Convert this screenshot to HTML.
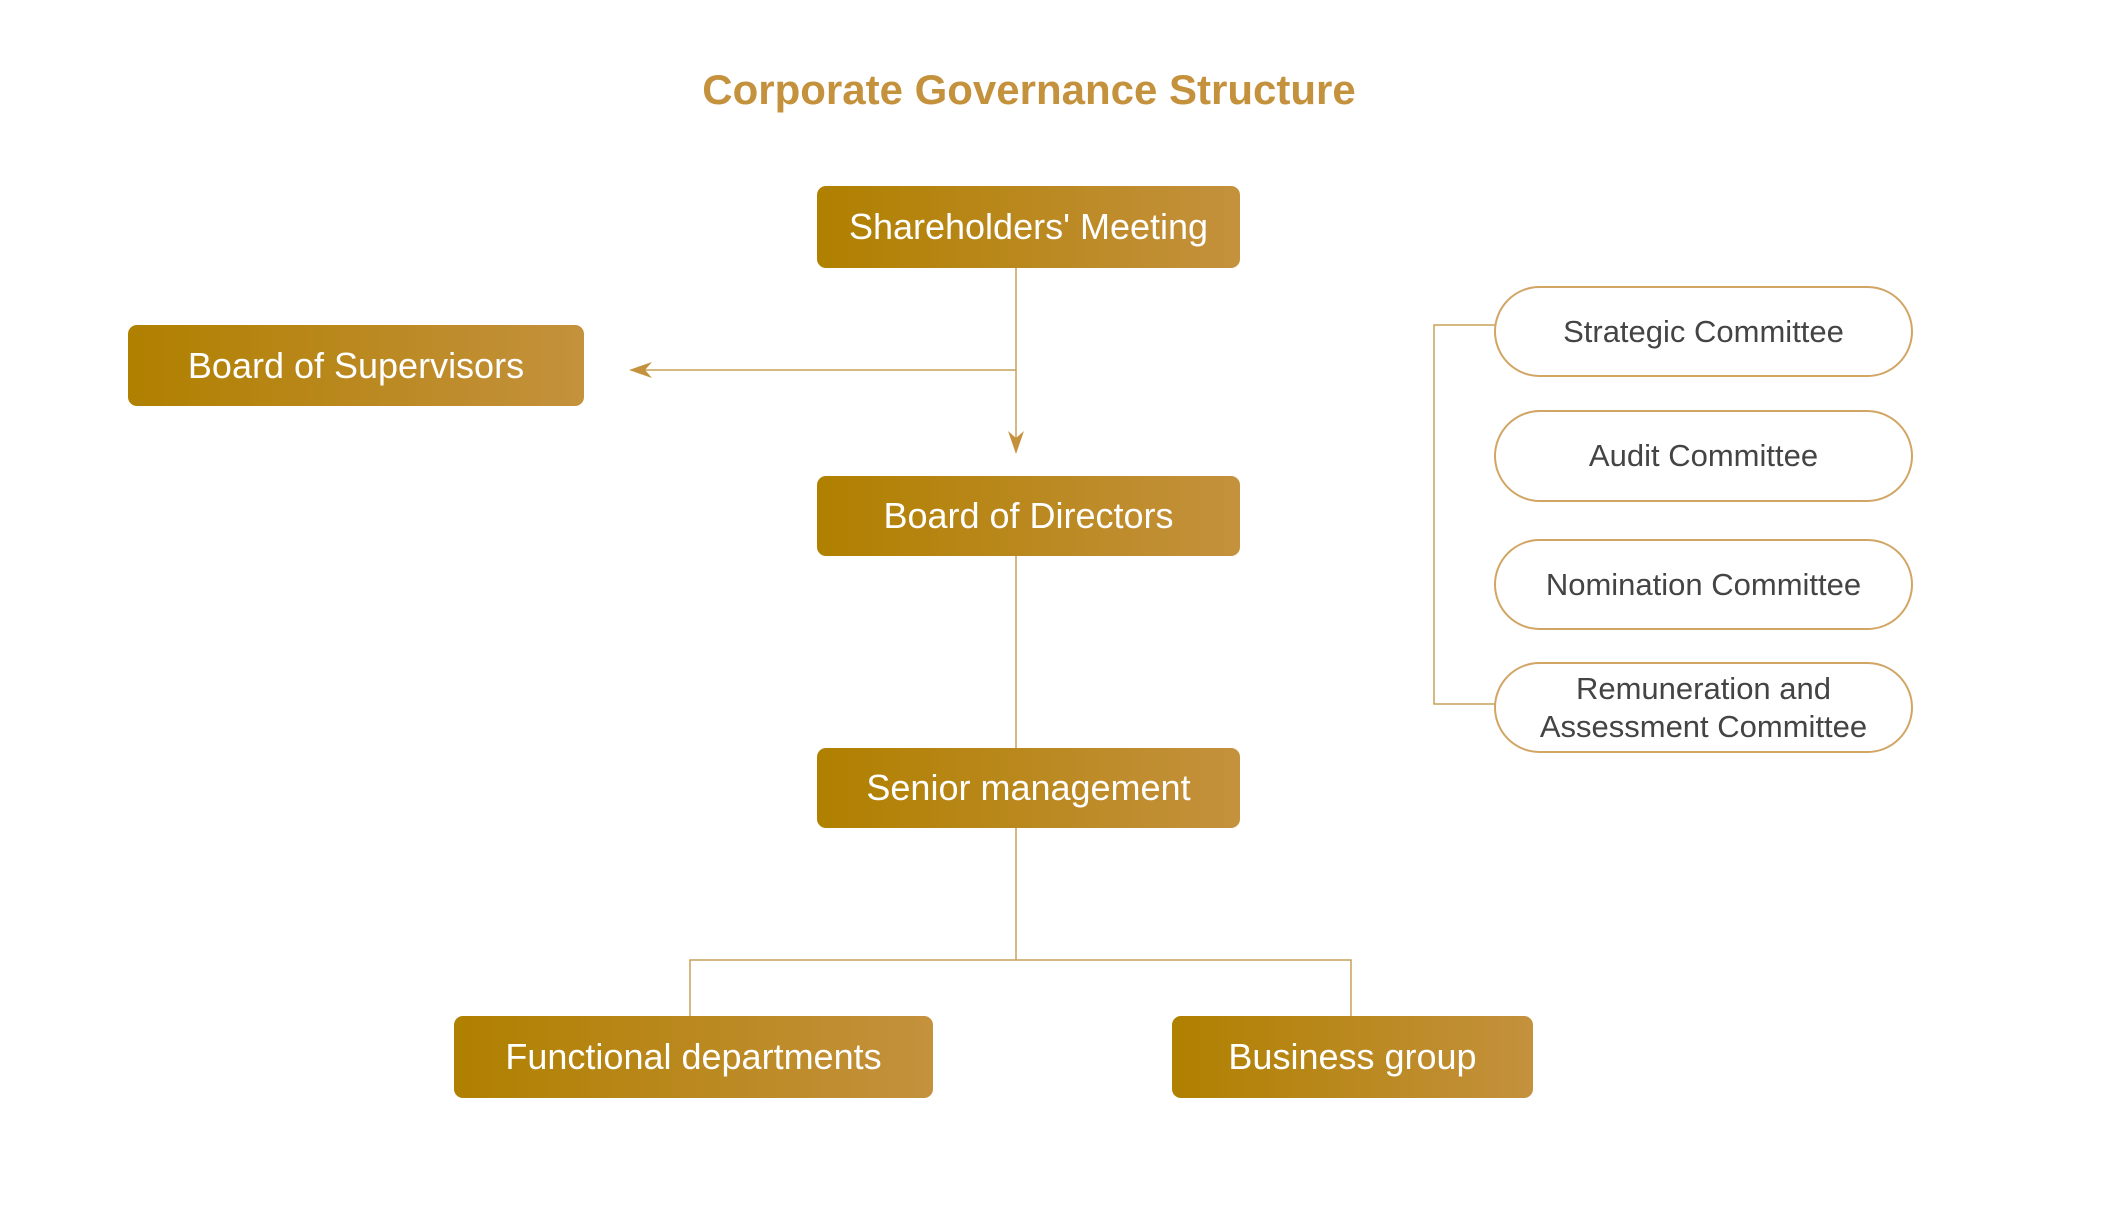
<!DOCTYPE html>
<html><head><meta charset="utf-8"><style>
body{margin:0;width:2123px;height:1230px;background:#fff;position:relative;overflow:hidden;font-family:"Liberation Sans",sans-serif}
#w{position:absolute;left:0;top:0;width:2123px;height:1230px;transform:translate(-5px,-2px)}
.t{position:absolute;left:0;width:2068px;top:68px;text-align:center;font-weight:bold;font-size:42px;color:#c4913d}
.b{position:absolute;display:flex;align-items:center;justify-content:center;color:#fff;font-size:36px;border-radius:9px;background:linear-gradient(90deg,#b08000,#c4913d)}
.p{position:absolute;left:1499px;width:419px;display:flex;align-items:center;justify-content:center;text-align:center;color:#444;font-size:31px;border:2px solid #d1a563;border-radius:46px;box-sizing:border-box;background:#fff;line-height:1.2}
svg{position:absolute;left:0;top:0}
</style></head><body><div id="w">
<div class="t">Corporate Governance Structure</div>
<svg width="2123" height="1230">
<g stroke="#c9a05a" stroke-width="1.5" fill="none">
<line x1="1021" y1="270" x2="1021" y2="450"/>
<line x1="1021" y1="372" x2="640" y2="372"/>
<line x1="1021" y1="558" x2="1021" y2="750"/>
<line x1="1021" y1="830" x2="1021" y2="962"/>
<polyline points="695,1018 695,962 1356,962 1356,1018"/>
<polyline points="1500,327 1439,327 1439,706 1500,706"/>
</g>
<path d="M1021 456 L1013 433 L1021 440 L1029 433 Z" fill="#c4913d"/>
<path d="M634 372 L657 364 L650 372 L657 380 Z" fill="#c4913d"/>
</svg>
<div class="b" style="left:822px;top:188px;width:423px;height:82px">Shareholders' Meeting</div>
<div class="b" style="left:133px;top:327px;width:456px;height:81px">Board of Supervisors</div>
<div class="b" style="left:822px;top:478px;width:423px;height:80px">Board of Directors</div>
<div class="b" style="left:822px;top:750px;width:423px;height:80px">Senior management</div>
<div class="b" style="left:459px;top:1018px;width:479px;height:82px">Functional departments</div>
<div class="b" style="left:1177px;top:1018px;width:361px;height:82px">Business group</div>
<div class="p" style="top:288px;height:91px">Strategic Committee</div>
<div class="p" style="top:412px;height:92px">Audit Committee</div>
<div class="p" style="top:541px;height:91px">Nomination Committee</div>
<div class="p" style="top:664px;height:91px">Remuneration and<br>Assessment Committee</div>
</div></body></html>
